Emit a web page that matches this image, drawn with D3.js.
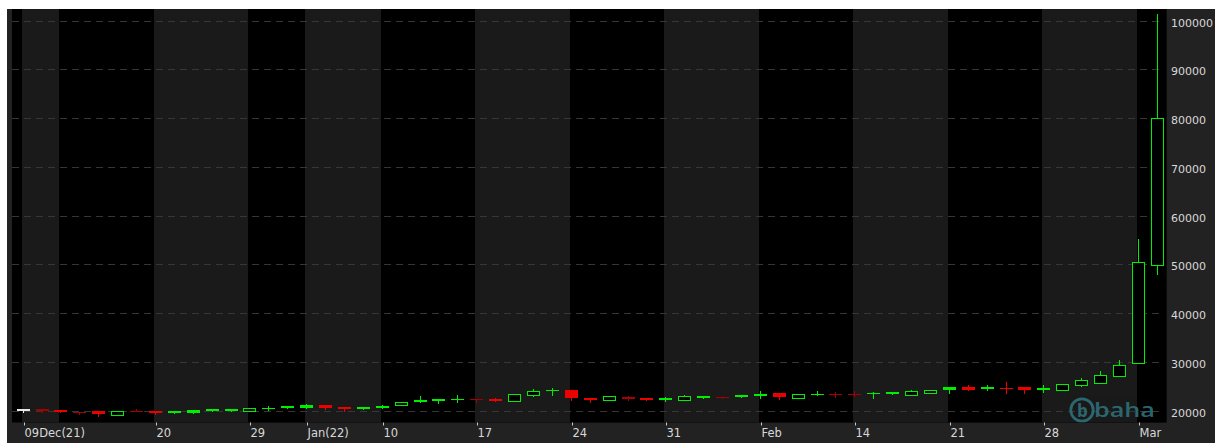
<!DOCTYPE html>
<html><head><meta charset="utf-8">
<script src="https://cdn.jsdelivr.net/npm/d3@7"></script>
<style>html,body{margin:0;padding:0;background:#fff;overflow:hidden}</style>
</head><body><svg id="c" width="1215" height="443"></svg>
<script>
const dates = ["2021-12-09","2021-12-10","2021-12-13","2021-12-14","2021-12-15","2021-12-16","2021-12-17","2021-12-20","2021-12-21","2021-12-22","2021-12-23","2021-12-24","2021-12-29","2021-12-30","2021-12-31",
"2022-01-04","2022-01-05","2022-01-06","2022-01-07","2022-01-10","2022-01-11","2022-01-12","2022-01-13","2022-01-14","2022-01-17","2022-01-18","2022-01-19","2022-01-20","2022-01-21","2022-01-24","2022-01-25","2022-01-26","2022-01-27","2022-01-28","2022-01-31",
"2022-02-01","2022-02-02","2022-02-03","2022-02-04","2022-02-07","2022-02-08","2022-02-09","2022-02-10","2022-02-11","2022-02-14","2022-02-15","2022-02-16","2022-02-17","2022-02-18","2022-02-21","2022-02-22","2022-02-23","2022-02-24","2022-02-25","2022-02-28",
"2022-03-01","2022-03-02","2022-03-03","2022-03-04","2022-03-07","2022-03-08"];
const openV  = [19880,20000,20144,19650,19877,19180,19850,19877,19877,20082,20349,20349,19939,20492,20902,
21107,21169,20820,20820,20902,21169,22194,22399,22194,22200,22460,21989,23219,24244,24244,22665,22200,22399,22665,22542,
22200,22665,22665,23219,23485,23690,22665,23219,23219,23219,23567,23772,23219,23690,24797,24797,24920,24715,24797,24715,
24305,25269,25740,27114,29720,49870];
const highV  = [20380,20300,20150,19800,19890,20000,20349,19890,19877,20082,20349,20349,20615,20902,20902,
21374,21180,20830,20820,21169,21845,22952,22399,23157,22340,22665,23424,24510,24592,24244,22665,22952,23014,22665,22747,
23219,23014,22850,23219,24039,23690,23424,24039,23834,24039,23895,23772,24305,24300,24797,25330,25207,25822,24797,25269,
25535,26642,28077,30394,55140,101260];
const lowV   = [19730,19795,19730,19385,18914,19170,19840,19262,19460,19580,19877,19880,19939,20144,20615,
20492,20330,20000,20410,20610,21169,21845,21640,21722,21722,21980,21989,22952,23280,22194,21845,22200,22194,22194,21927,
22200,22542,22665,22860,22665,22460,22665,23219,22747,23075,22665,23480,23219,23690,23690,24244,24182,23567,23567,23834,
24305,25002,25740,27114,29720,48020];
const closeV = [20350,20287,19800,19790,19262,20000,19990,19467,19470,19590,19877,19880,20615,20620,20620,
20620,20600,20410,20420,20615,21845,21850,21927,22337,22330,21989,23424,23950,23960,22542,22194,22952,22809,22194,22200,
23014,23014,22850,22860,22952,22809,23424,23485,23480,23470,23475,23480,23977,24300,24310,24244,24510,24387,24244,24250,
25535,26232,27257,29369,50420,80065];
const tickDates  = ["2021-12-09","2021-12-20","2021-12-29","2022-01-04","2022-01-10","2022-01-17","2022-01-24","2022-01-31","2022-02-07","2022-02-14","2022-02-21","2022-02-28","2022-03-07"];
const tickLabels = ["09Dec(21)","20","29","Jan(22)","10","17","24","31","Feb","14","21","28","Mar"];
const yTicks = [20000,30000,40000,50000,60000,70000,80000,90000,100000];

const W = 1215, H = 443;
const plot = {x0: 12, x1: 1166.5, y0: 9, y1: 422.5};
const svg = d3.select("#c");
const FONT = "DejaVu Sans, Verdana, sans-serif";
const GREEN = "#00ee00", RED = "#ee0000", DRED = "#a80000";

const x = d3.scalePoint().domain(dates).range([22.6, 1156.8]);
const y = d3.scaleLinear().domain([20000, 100000]).range([410.7, 20.6]);

// frame
svg.append("rect").attr("x", 7).attr("y", 9).attr("width", W - 7).attr("height", H - 9).attr("fill", "#222");
svg.append("rect").attr("x", plot.x0).attr("y", plot.y0).attr("width", plot.x1 - plot.x0).attr("height", plot.y1 - plot.y0).attr("fill", "#000");
svg.append("clipPath").attr("id", "pc").append("rect")
  .attr("x", plot.x0).attr("y", plot.y0).attr("width", plot.x1 - plot.x0).attr("height", plot.y1 - plot.y0);
const g = svg.append("g").attr("clip-path", "url(#pc)");

// weekly bands
const parse = d3.utcParse("%Y-%m-%d");
const weekKey = d => +d3.utcMonday.floor(parse(d));
const weekStarts = [];
dates.forEach((d, i) => { if (i === 0 || weekKey(d) !== weekKey(dates[i - 1])) weekStarts.push(d); });
weekStarts.forEach((d, i) => {
  const xs = Math.round(x(d)) - 1;
  const xe = i + 1 < weekStarts.length ? Math.round(x(weekStarts[i + 1])) - 1 : plot.x1;
  g.append("rect").attr("x", xs).attr("y", plot.y0).attr("width", xe - xs).attr("height", plot.y1 - plot.y0)
    .attr("fill", i % 2 === 0 ? "#1a1a1a" : "#000");
});

// grid
g.selectAll("line.grid").data(yTicks).join("line")
  .attr("x1", plot.x0).attr("x2", plot.x1 - 6)
  .attr("y1", d => Math.round(y(d)) + 0.5).attr("y2", d => Math.round(y(d)) + 0.5)
  .attr("stroke", "#363636").attr("stroke-width", 1).attr("stroke-dasharray", "7,5");

// watermark
const WM = "#2f7179";
const wm = g.append("g").attr("opacity", 0.9);
wm.append("circle").attr("cx", 1082).attr("cy", 410).attr("r", 11.2).attr("fill", "none")
  .attr("stroke", WM).attr("stroke-width", 2.8);
wm.append("text").attr("x", 1082.5).attr("y", 416.5).attr("text-anchor", "middle")
  .attr("font-family", "Open Sans, sans-serif").attr("font-weight", "bold").attr("font-size", 17)
  .attr("fill", WM).text("b");
wm.append("text").attr("x", 1094).attr("y", 417).attr("font-family", "Open Sans, sans-serif")
  .attr("font-weight", 600).attr("font-size", 20).attr("textLength", 61).attr("lengthAdjust", "spacingAndGlyphs")
  .attr("fill", WM).text("baha");

// candles
const candles = dates.map((d, i) => ({d, i, o: openV[i], h: highV[i], l: lowV[i], c: closeV[i]}));
const cg = g.append("g").attr("shape-rendering", "crispEdges");
candles.forEach(k => {
  const cx = Math.round(x(k.d));
  const up = k.i === 0 ? true : k.c >= closeV[k.i - 1];
  const filled = k.c < k.o;
  let col = up ? GREEN : (filled ? RED : DRED);
  if (k.i === 0) col = "#e8e8e8";
  const yt = Math.round(y(Math.max(k.o, k.c))), yb = Math.round(y(Math.min(k.o, k.c)));
  cg.append("rect").attr("x", cx).attr("y", Math.round(y(k.h)))
    .attr("width", 1).attr("height", Math.round(y(k.l)) + 1 - Math.round(y(k.h)))
    .attr("fill", col);
  const hh = yb - yt;
  if (k.i === 0 || filled || !up || hh <= 2) {
    cg.append("rect").attr("x", cx - 6).attr("y", yt).attr("width", 13).attr("height", Math.max(1, hh))
      .attr("fill", col);
  } else {
    cg.append("rect").attr("x", cx - 6).attr("y", yt).attr("width", 13).attr("height", hh + 1).attr("fill", col);
    cg.append("rect").attr("x", cx - 5).attr("y", yt + 1).attr("width", 11).attr("height", hh - 1).attr("fill", "#000");
  }
});

// x ticks + labels
tickDates.forEach((d, i) => {
  const cx = Math.round(x(d)) + 1;
  svg.append("rect").attr("x", cx).attr("y", plot.y1).attr("width", 1).attr("height", 3).attr("fill", "#c8c8c8");
  svg.append("text").attr("x", cx + 0.5).attr("y", 437).attr("font-family", FONT).attr("font-size", 11.5)
    .attr("fill", "#d8d8d8").text(tickLabels[i]);
});

// y labels
yTicks.forEach(v => {
  svg.append("text").attr("x", 1171).attr("y", Math.round(y(v)) + 5.5).attr("font-family", FONT)
    .attr("font-size", 11).attr("fill", "#d8d8d8").text(v);
});
</script></body></html>
